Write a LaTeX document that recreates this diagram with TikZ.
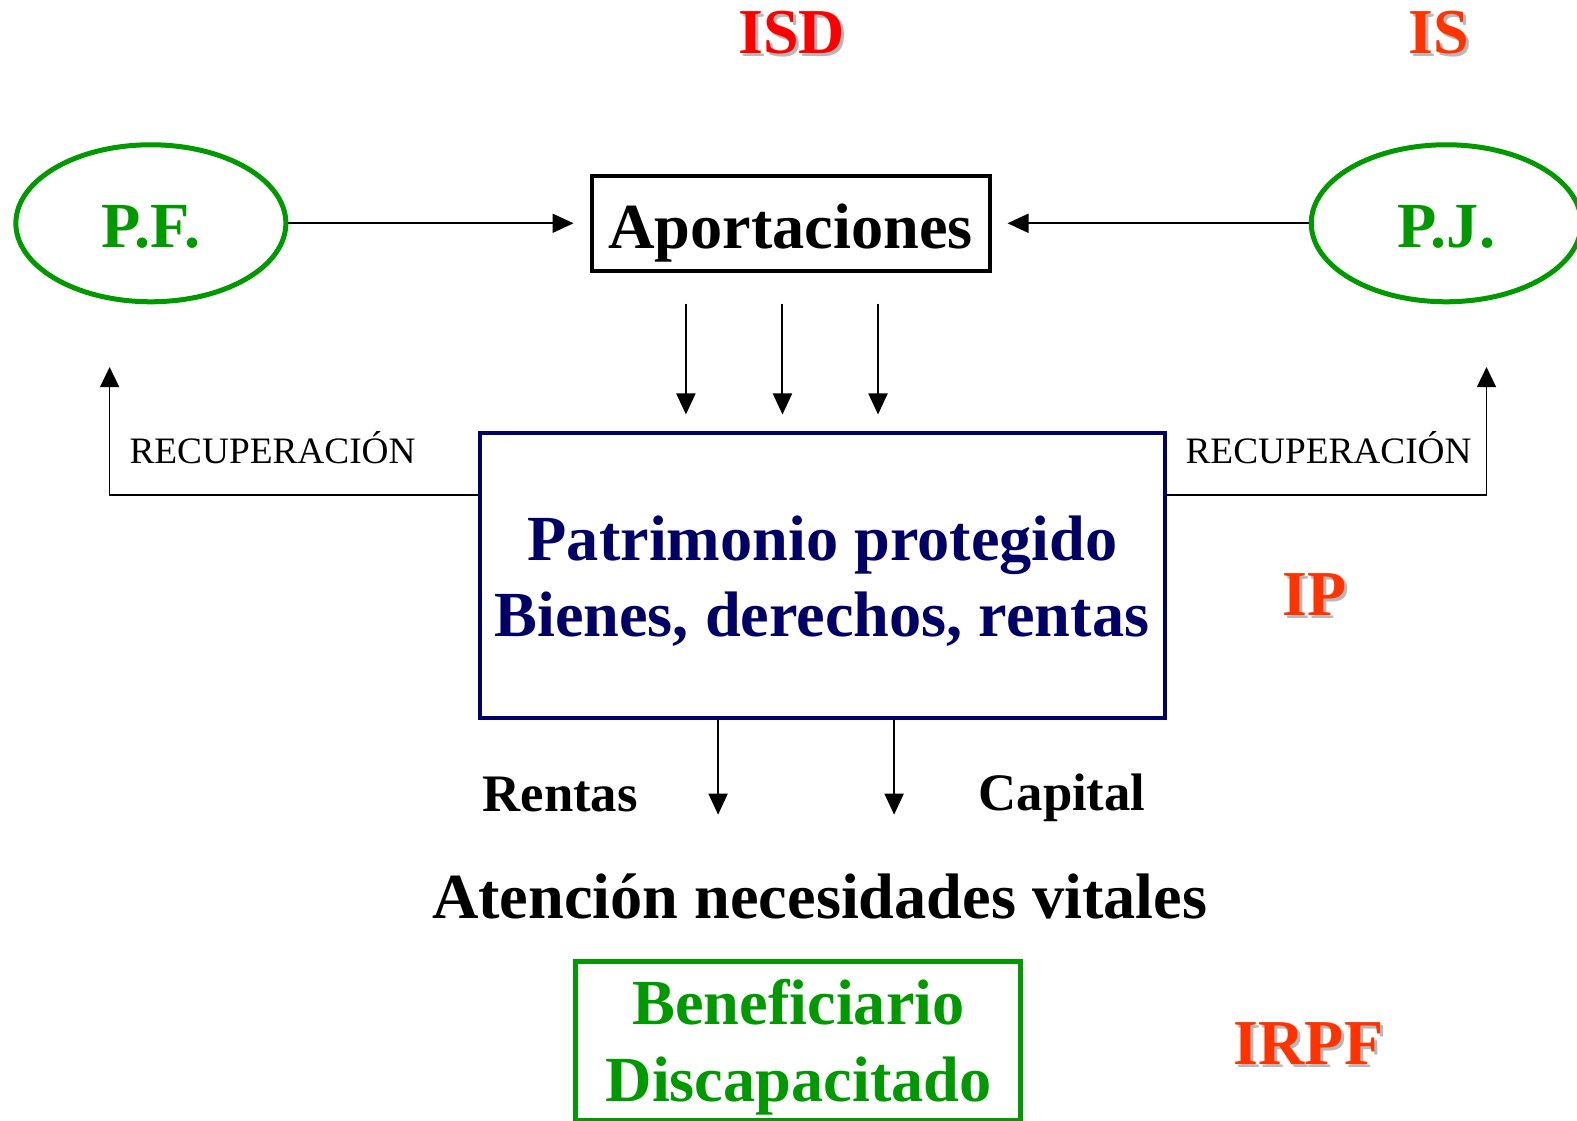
\documentclass[tikz,border=0pt]{standalone}
\usepackage{fontspec}
\setmainfont{Liberation Serif}
\usetikzlibrary{shapes.geometric,arrows.meta}
\definecolor{pgreen}{HTML}{009900}
\definecolor{pnavy}{HTML}{000066}
\definecolor{pred}{HTML}{FF0000}
\definecolor{porange}{HTML}{FF3300}
\definecolor{pshadow}{HTML}{B8B8B8}
\begin{document}
\begin{tikzpicture}[x=1.0057pt,y=-1.0057pt,
  big/.style={font=\fontsize{64.3}{70}\selectfont\bfseries, inner sep=0pt, anchor=base},
  mid/.style={font=\fontsize{52.7}{60}\selectfont\bfseries, inner sep=0pt, anchor=base},
  small/.style={font=\fontsize{37.3}{44}\selectfont, inner sep=0pt, anchor=base},
  tax/.style={font=\fontsize{64}{70}\selectfont\bfseries, inner sep=0pt, anchor=base},
  shad/.style={tax, text=pshadow},
  arr/.style={line width=2pt, -{Triangle[length=21pt,width=19pt]}},
  rarr/.style={line width=1.6pt, -{Triangle[length=20pt,width=19pt]}},
  oval/.style={ellipse, draw=pgreen, line width=5pt, minimum width=270pt, minimum height=157pt, inner sep=0pt}]
\useasboundingbox (0,0) rectangle (1568,1114);
% tax labels with shadows
\node[shad] (isds) at (790,56) {ISD};
\node[tax, text=pred] (isd) at (787,53) {ISD};
\node[shad] (iss) at (1434,56) {IS};
\node[tax, text=porange] (is) at (1431,53) {IS};
\node[shad] (ips) at (1310,615) {IP};
\node[tax, text=porange] (ip) at (1307,612) {IP};
\node[shad] (irpfs) at (1304,1061) {IRPF};
\node[tax, text=porange] (irpf) at (1301,1058) {IRPF};
% ovals
\node[oval] (pf) at (150,222) {};
\node[big, text=pgreen] (pft) at (150,246) {P.F.};
\node[oval] (pj) at (1438,222) {};
\node[big, text=pgreen] (pjt) at (1438,246) {P.J.};
% aportaciones
\node[draw, line width=4pt, minimum width=398pt, minimum height=94.5pt, inner sep=0pt] (apbox) at (786,222) {};
\node[big] (aptext) at (786,247) {Aportaciones};
\draw[arr, shorten >=16pt] (pf.east) -- (apbox.west);
\draw[arr, shorten >=16pt] (pj.west) -- (apbox.east);
% patrimonio
\node[draw=pnavy, line width=4pt, minimum width=685pt, minimum height=284.6pt, inner sep=0pt] (patbox) at (817.5,572.5) {};
\node[big, text=pnavy] (pat1) at (818,557) {Patrimonio protegido};
\node[big, text=pnavy] (pat2) at (817,633) {Bienes, derechos, rentas};
\coordinate (a1) at (682,0);
\coordinate (a2) at (778,0);
\coordinate (a3) at (873,0);
\draw[arr, shorten <=31pt, shorten >=17pt] (apbox.south -| a1) -- (patbox.north -| a1);
\draw[arr, shorten <=31pt, shorten >=17pt] (apbox.south -| a2) -- (patbox.north -| a2);
\draw[arr, shorten <=31pt, shorten >=17pt] (apbox.south -| a3) -- (patbox.north -| a3);
% recuperacion
\coordinate (rl) at (0,492);
\coordinate (pfup) at (109,365);
\coordinate (pjup) at (1478,365);
\draw[rarr] (patbox.west |- rl) -| (pfup);
\draw[rarr] (patbox.east |- rl) -| (pjup);
\node[small] (recl) at (271,461) {RECUPERACIÓN};
\node[small] (recr) at (1321,461) {RECUPERACIÓN};
% outputs
\coordinate (b1) at (714,810);
\coordinate (b2) at (889,810);
\draw[arr] (patbox.south -| b1) -- (b1);
\draw[arr] (patbox.south -| b2) -- (b2);
\node[mid] (rentas) at (557,807) {Rentas};
\node[mid] (capital) at (1056,806) {Capital};
\node[big] (atencion) at (815,913) {Atención necesidades vitales};
% beneficiario
\node[draw=pgreen, line width=5pt, minimum width=444.5pt, minimum height=159pt, inner sep=0pt] (benbox) at (793.5,1035.5) {};
\node[big, text=pgreen] (ben1) at (794,1019) {Beneficiario};
\node[big, text=pgreen] (ben2) at (794,1095) {Discapacitado};
\end{tikzpicture}
\end{document}
